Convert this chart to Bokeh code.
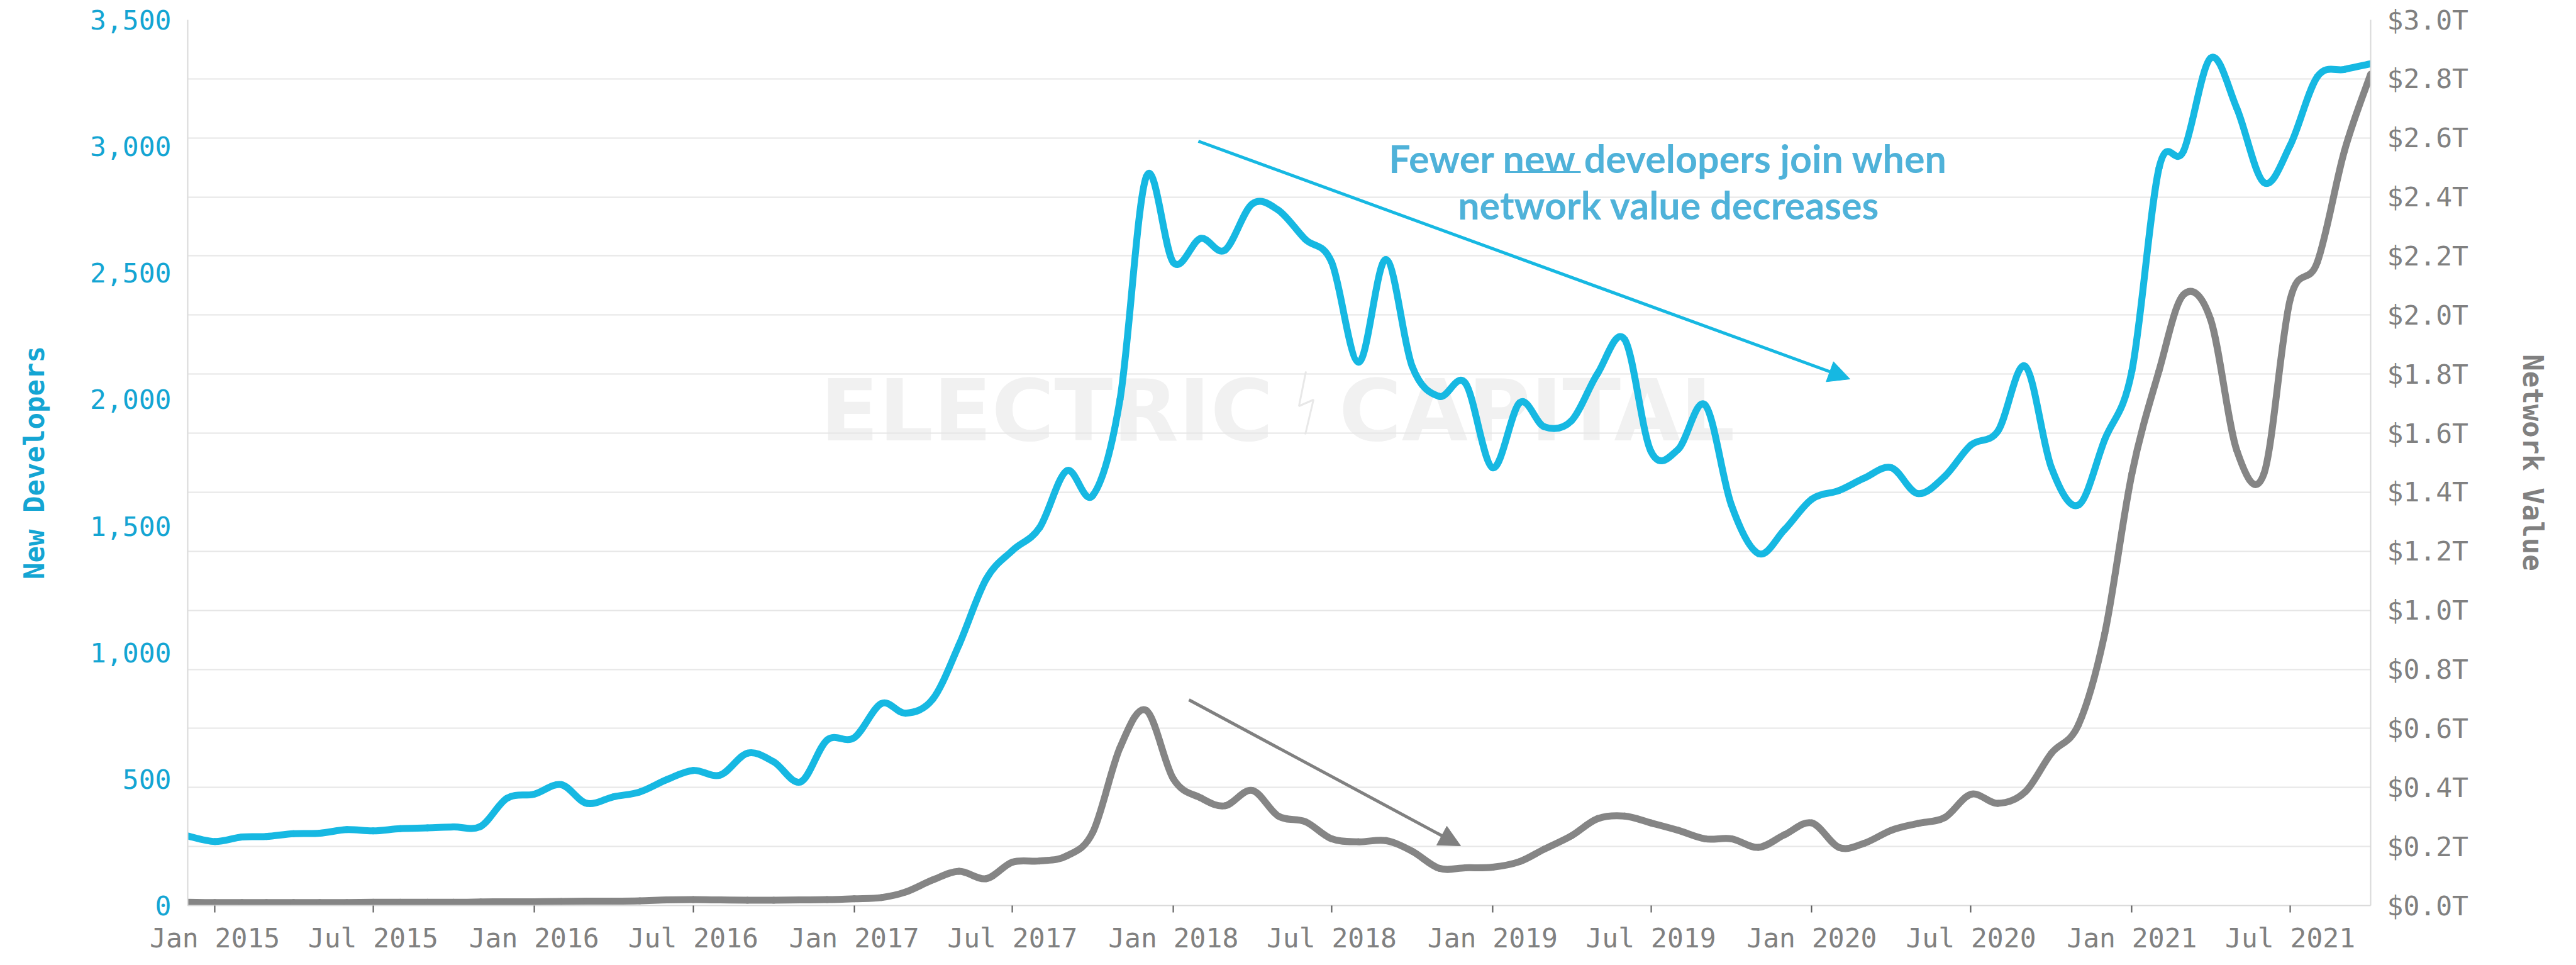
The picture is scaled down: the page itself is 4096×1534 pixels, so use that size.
import numpy as np
import pandas as pd
from bokeh.plotting import figure
from bokeh.models import (Range1d, LinearAxis, MonthsTicker, DatetimeTickFormatter,
                          SingleIntervalTicker, FixedTicker, NumeralTickFormatter,
                          PrintfTickFormatter, Arrow, NormalHead, ColumnDataSource, Label)
from bokeh.embed import file_html
from bokeh.resources import INLINE

# ---------------- data (monthly, Dec 2014 .. Oct 2021) ----------------
months = pd.date_range("2014-12-01", "2021-10-01", freq="MS")

new_developers = [
    275,
    253, 271, 273, 284, 286, 300, 295, 304, 307, 311, 313, 424,
    440, 478, 404, 430, 449, 498, 534, 516, 602, 568, 489, 654,
    663, 798, 760, 816, 1031, 1290, 1403, 1493, 1718, 1621, 2000, 2880,
    2541, 2636, 2590, 2772, 2748, 2632, 2542, 2147, 2553, 2131, 2012, 2064,
    1730, 1987, 1892, 1915, 2102, 2237, 1795, 1802, 1978, 1583, 1391, 1486,
    1606, 1640, 1689, 1730, 1628, 1696, 1820, 1876, 2131, 1730, 1583, 1842,
    2113, 2914, 2981, 3349, 3150, 2857, 3004, 3275, 3304, 3326,
]

network_value_t = [
    0.011,
    0.010, 0.010, 0.010, 0.010, 0.010, 0.010, 0.011, 0.011, 0.011, 0.011, 0.012, 0.013,
    0.013, 0.014, 0.015, 0.015, 0.016, 0.019, 0.020, 0.019, 0.018, 0.018, 0.019, 0.020,
    0.023, 0.027, 0.046, 0.087, 0.116, 0.091, 0.147, 0.151, 0.168, 0.249, 0.535, 0.661,
    0.429, 0.365, 0.338, 0.390, 0.303, 0.284, 0.226, 0.216, 0.220, 0.184, 0.126, 0.128,
    0.130, 0.149, 0.191, 0.236, 0.294, 0.303, 0.280, 0.255, 0.226, 0.226, 0.197, 0.240,
    0.280, 0.197, 0.211, 0.255, 0.278, 0.298, 0.377, 0.346, 0.385, 0.516, 0.613, 0.922,
    1.463, 1.811, 2.069, 1.985, 1.541, 1.463, 2.053, 2.179, 2.556, 2.816,
]

dev_axis_max = 3500
dev_tick_step = 500
nv_axis_max = 3.0
nv_tick_step = 0.2

annotation_lines = ["Fewer new developers join when", "network value decreases"]
watermark_words = ["ELECTRIC", "CAPITAL"]

# ---------------- styling ----------------
BLUE = "#16b8e2"
GRAY = "#858585"
AXIS_BLUE = "#14a5d3"
LABEL_GRAY = "#808080"
NOTE_BLUE = "#4fb2d9"
MONO = "DejaVu Sans Mono"

x_ms = months.values.astype("datetime64[ms]").astype(np.int64).astype(float)
X0, X1 = x_ms[0], x_ms[-1]

# page-pixel geometry of the plot frame (used only to place annotations)
FRAME_L, FRAME_R, FRAME_T, FRAME_B = 306.0, 3777.0, 39.0, 1447.0


def px_x(px):
    return X0 + (px - FRAME_L) / (FRAME_R - FRAME_L) * (X1 - X0)


def px_dev(py):
    return (FRAME_B - py) / (FRAME_B - FRAME_T) * dev_axis_max


def smooth_segments(xs, ys):
    xs = np.asarray(xs, float)
    ys = np.asarray(ys, float)
    n = len(xs)
    out = {k: [] for k in ("x0", "y0", "x1", "y1", "cx0", "cy0", "cx1", "cy1")}
    for i in range(n - 1):
        a = i - 1 if i > 0 else i
        d = i + 2 if i + 2 < n else i + 1
        out["x0"].append(xs[i]); out["y0"].append(ys[i])
        out["x1"].append(xs[i + 1]); out["y1"].append(ys[i + 1])
        out["cx0"].append(xs[i] + (xs[i + 1] - xs[a]) / 6.0)
        out["cy0"].append(ys[i] + (ys[i + 1] - ys[a]) / 6.0)
        out["cx1"].append(xs[i + 1] - (xs[d] - xs[i]) / 6.0)
        out["cy1"].append(ys[i + 1] - (ys[d] - ys[i]) / 6.0)
    return ColumnDataSource(out)


p = figure(width=4080, height=1518, x_axis_type="datetime",
           x_range=Range1d(X0, X1), y_range=Range1d(0, dev_axis_max),
           output_backend="svg", toolbar_location=None,
           min_border_left=298, min_border_right=311,
           min_border_top=31, min_border_bottom=79)
p.outline_line_color = None
p.background_fill_color = "white"
p.border_fill_color = "white"
p.extra_y_ranges = {"nv": Range1d(0, nv_axis_max)}

# grid at every $0.2T of the right axis
p.xgrid.visible = False
nv_ticks = np.arange(0, nv_axis_max + 1e-9, nv_tick_step)
p.ygrid.ticker = FixedTicker(ticks=list(nv_ticks / nv_axis_max * dev_axis_max))
p.ygrid.grid_line_color = "#e6e6e6"
p.ygrid.grid_line_width = 2

# bottom axis
xa = p.xaxis[0]
xa.ticker = MonthsTicker(months=[0, 6])
xa.formatter = DatetimeTickFormatter(months="%b %Y", years="%b %Y", days="%b %Y")
xa.major_label_text_font = MONO
xa.major_label_text_font_size = "43px"
xa.major_label_text_color = LABEL_GRAY
xa.major_tick_out = 11
xa.major_tick_in = 0
xa.major_tick_line_color = "#595959"
xa.major_tick_line_width = 2
xa.minor_tick_out = 0
xa.minor_tick_in = 0
xa.axis_line_color = "#d9d9d9"
xa.axis_line_width = 2
xa.major_label_standoff = 15

# left axis
ya = p.yaxis[0]
ya.ticker = SingleIntervalTicker(interval=dev_tick_step, num_minor_ticks=0)
ya.formatter = NumeralTickFormatter(format="0,0")
ya.major_label_text_font = MONO
ya.major_label_text_font_size = "43px"
ya.major_label_text_color = AXIS_BLUE
ya.major_tick_out = 0
ya.major_tick_in = 0
ya.minor_tick_out = 0
ya.minor_tick_in = 0
ya.major_label_standoff = 26
ya.axis_line_color = "#d9d9d9"
ya.axis_line_width = 2
ya.axis_label = "New Developers"
ya.axis_label_text_font = MONO
ya.axis_label_text_font_size = "44px"
ya.axis_label_text_font_style = "bold"
ya.axis_label_text_color = AXIS_BLUE
ya.axis_label_standoff = 60

# right axis
ra = LinearAxis(y_range_name="nv",
                ticker=SingleIntervalTicker(interval=nv_tick_step, num_minor_ticks=0),
                formatter=PrintfTickFormatter(format="$%.1fT"))
ra.major_label_text_font = MONO
ra.major_label_text_font_size = "43px"
ra.major_label_text_color = LABEL_GRAY
ra.major_tick_out = 0
ra.major_tick_in = 0
ra.minor_tick_out = 0
ra.minor_tick_in = 0
ra.major_label_standoff = 26
ra.axis_line_color = "#d9d9d9"
ra.axis_line_width = 2
ra.axis_label = "Network Value"
ra.axis_label_text_font = MONO
ra.axis_label_text_font_size = "44px"
ra.axis_label_text_font_style = "bold"
ra.axis_label_text_color = LABEL_GRAY
ra.axis_label_standoff = 74
p.add_layout(ra, "right")

# watermark
WM = "#f1f1f1"
wm_y = px_dev(660)
p.add_layout(Label(x=px_x(2032), y=wm_y, text=watermark_words[0], text_align="right",
                   text_baseline="alphabetic", text_font="DejaVu Sans", text_font_style="bold",
                   text_font_size="136px", text_color=WM, level="image"))
p.add_layout(Label(x=px_x(2136.5), y=wm_y, text=watermark_words[1], text_align="left",
                   text_baseline="alphabetic", text_font="DejaVu Sans", text_font_style="bold",
                   text_font_size="136px", text_color=WM, level="image"))
bolt_px = [(2084, 598), (2073, 653), (2096, 643), (2083, 698)]
bolt = p.line([px_x(a) for a, b in bolt_px], [px_dev(b) for a, b in bolt_px],
              line_color="#e8e8e8", line_width=3)
bolt.level = "image"

# series (smoothed, passing through every monthly value)
blue_src = smooth_segments(x_ms, new_developers)
gray_src = smooth_segments(x_ms, network_value_t)
p.bezier(x0="x0", y0="y0", x1="x1", y1="y1", cx0="cx0", cy0="cy0", cx1="cx1", cy1="cy1",
         source=blue_src, line_color=BLUE, line_width=11, line_cap="round")
p.bezier(x0="x0", y0="y0", x1="x1", y1="y1", cx0="cx0", cy0="cy0", cx1="cx1", cy1="cy1",
         source=gray_src, line_color=GRAY, line_width=11, line_cap="round", y_range_name="nv")

# annotation arrows
p.add_layout(Arrow(x_start=px_x(1913), y_start=px_dev(232), x_end=px_x(2949), y_end=px_dev(610),
                   line_color=BLUE, line_width=5,
                   end=NormalHead(size=34, fill_color=BLUE, line_color=BLUE, line_width=1)))
p.add_layout(Arrow(x_start=px_x(1898), y_start=px_dev(1120), x_end=px_x(2330), y_end=px_dev(1352),
                   line_color="#808080", line_width=5,
                   end=NormalHead(size=34, fill_color="#808080", line_color="#808080", line_width=1)))

# annotation text
for txt, base in zip(annotation_lines, (259, 332.5)):
    p.add_layout(Label(x=px_x(2661), y=px_dev(base), text=txt, text_align="center",
                       text_baseline="alphabetic", text_font="Lato", text_font_style="bold",
                       text_font_size="61px", text_color=NOTE_BLUE))
p.segment(x0=[px_x(2405)], y0=[px_dev(281)], x1=[px_x(2521)], y1=[px_dev(281)],
          line_color=NOTE_BLUE, line_width=3)

open("out.html", "w").write(file_html(p, INLINE))
